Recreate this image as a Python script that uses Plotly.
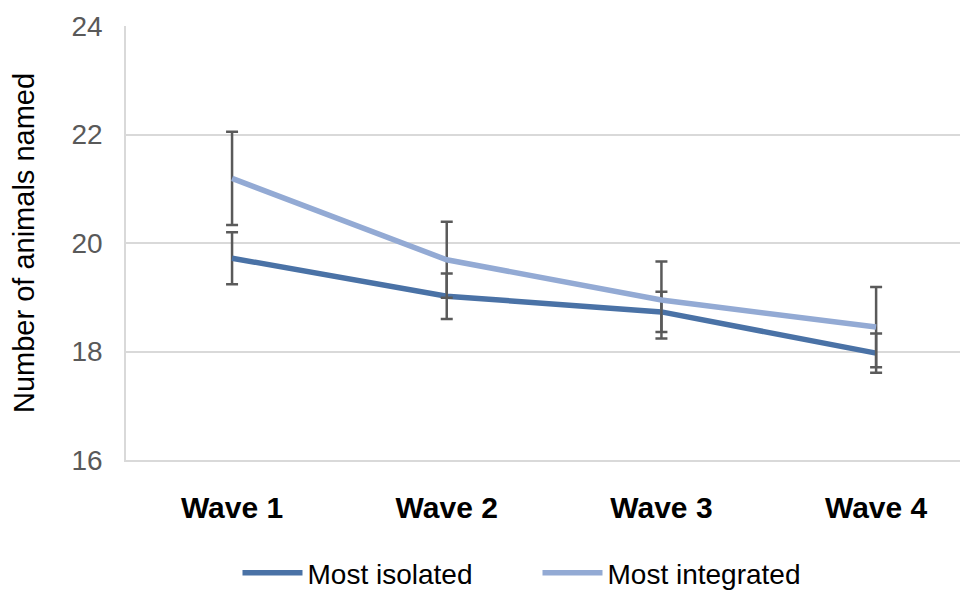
import plotly.graph_objects as go

waves = ["Wave 1", "Wave 2", "Wave 3", "Wave 4"]
isolated = [19.72, 19.02, 18.73, 17.97]
isolated_err = [0.48, 0.42, 0.37, 0.36]
integrated = [21.19, 19.69, 18.95, 18.45]
integrated_err = [0.86, 0.70, 0.71, 0.74]

FONT = "Liberation Sans"
ERR_COLOR = "#5a5a5a"

fig = go.Figure()
fig.add_trace(go.Scatter(
    x=list(range(len(waves))), y=isolated, name="Most isolated", mode="lines",
    line=dict(color="#4a72a6", width=5.5),
    error_y=dict(type="data", array=isolated_err, color=ERR_COLOR, thickness=2.5, width=6),
))
fig.add_trace(go.Scatter(
    x=list(range(len(waves))), y=integrated, name="Most integrated", mode="lines",
    line=dict(color="#93aad4", width=5.5),
    error_y=dict(type="data", array=integrated_err, color=ERR_COLOR, thickness=2.5, width=6),
))

fig.update_layout(
    width=968, height=590,
    margin=dict(l=118, r=8, t=18, b=138, autoexpand=False),
    paper_bgcolor="white", plot_bgcolor="white",
    font=dict(family=FONT, size=28, color="#000000"),
    showlegend=True,
    legend=dict(orientation="h", xref="container", yref="container",
                x=0.547, xanchor="center", y=0.0, yanchor="bottom",
                font=dict(size=28, color="#000000"), itemwidth=60,
                entrywidth=225, bgcolor="rgba(0,0,0,0)"),
)
fig.update_xaxes(
    range=[-0.494, 3.428], tickmode="array", tickvals=list(range(len(waves))),
    ticktext=["<b>%s</b>" % w for w in waves],
    tickfont=dict(size=30, color="#000000"),
    showgrid=False, zeroline=False, showline=True, linecolor="#d9d9d9", linewidth=1.5,
    ticks="", ticklabelstandoff=20, automargin=False,
)
fig.update_yaxes(
    range=[16, 24], dtick=2, tickfont=dict(size=28, color="#595959"),
    showgrid=True, gridcolor="#d9d9d9", gridwidth=1.5,
    zeroline=False, showline=True, linecolor="#d9d9d9", linewidth=1.5,
    ticks="", ticklabelstandoff=16, automargin=False,
    title=dict(text="Number of animals named", font=dict(size=29, color="#000000"), standoff=29),
)

fig.write_html("out.html")
